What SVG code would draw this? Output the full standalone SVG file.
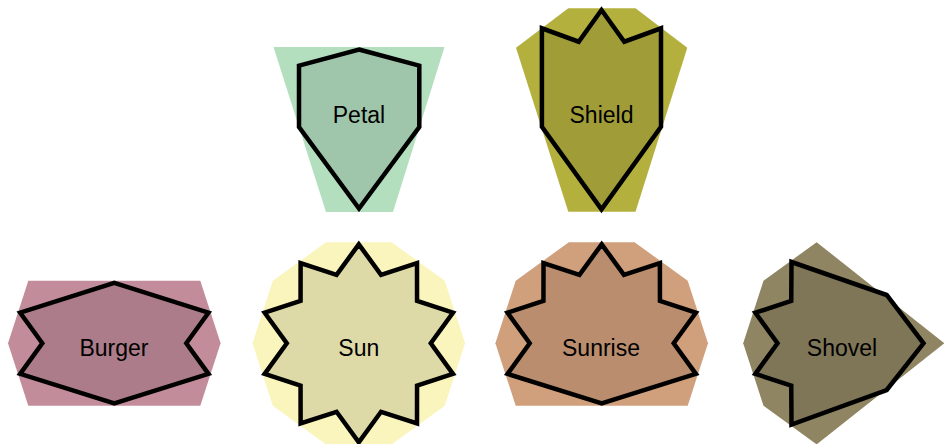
<svg xmlns="http://www.w3.org/2000/svg" width="944" height="444" viewBox="0 0 944 444">
<style>
.bg{stroke:none}
.ol{fill:#000;fill-opacity:0.11;stroke:#000;stroke-width:4.5;stroke-linejoin:miter}
.lb{font-family:"Liberation Sans",Arial,sans-serif;font-size:23px;fill:#000;text-anchor:middle}
</style>
<rect width="944" height="444" fill="#fff"/>
<g id="petal">
<polygon class="bg" fill="#b3dfbf" points="273.5,47 444.5,47 393,212 326,212"/>
<polygon class="ol" points="359,49.5 419.3,65.7 419.3,127 359,208.5 299,127 299,65.7"/>
<text class="lb" x="359" y="123">Petal</text>
</g>
<g id="shield">
<polygon class="bg" fill="#b4b03e" points="568.3,8.3 635.5,8.3 687.3,47.7 635.5,211.7 568.3,211.7 516,47.7"/>
<polygon class="ol" points="601.5,10 624.3,41.7 661,28.3 661,126.7 601.5,209.3 541.9,126.7 541.9,28.3 578.7,41.7"/>
<text class="lb" x="601.5" y="123">Shield</text>
</g>
<g id="burger">
<polygon class="bg" fill="#c38c9b" points="28.3,280.8 200.3,280.8 220.6,343.3 200.3,405.8 28.3,405.8 8,343.3"/>
<polygon class="ol" points="114.3,282.8 208.45,312.71 186.3,343.3 208.45,373.89 114.3,403.3 20.15,373.89 42.3,343.3 20.15,312.71"/>
<text class="lb" x="114" y="356">Burger</text>
</g>
<g id="sun">
<polygon class="bg" fill="#faf5bd" points="465.1,343.3 444.8,280.8 391.65,242.2 325.95,242.2 272.8,280.8 252.5,343.3 272.8,405.8 325.95,444.4 391.65,444.4 444.8,405.8"/>
<polygon class="ol" points="358.8,244.3 381.05,274.82 416.99,263.21 417.05,300.98 452.95,312.71 430.8,343.3 452.95,373.89 417.05,385.62 416.99,423.39 381.05,411.78 358.8,442.3 336.55,411.78 300.61,423.39 300.55,385.62 264.65,373.89 286.8,343.3 264.65,312.71 300.55,300.98 300.61,263.21 336.55,274.82"/>
<text class="lb" x="358.8" y="356">Sun</text>
</g>
<g id="sunrise">
<polygon class="bg" fill="#d09f7c" points="568.85,242.2 634.55,242.2 687.7,280.8 708,343.3 687.7,405.8 515.7,405.8 495.4,343.3 515.7,280.8"/>
<polygon class="ol" points="601.7,244.3 623.95,274.82 659.89,263.21 659.95,300.98 695.85,312.71 673.7,343.3 695.85,373.89 601.7,403.3 507.55,373.89 529.7,343.3 507.55,312.71 543.45,300.98 543.51,263.21 579.45,274.82"/>
<text class="lb" x="601" y="356">Sunrise</text>
</g>
<g id="shovel">
<polygon class="bg" fill="#8f8562" points="816.65,242.2 944.3,343.3 816.65,444.4 763.5,405.8 743.2,343.3 763.5,280.8"/>
<polygon class="ol" points="791.5,262 886.7,295 923.5,343.3 886.7,390 791.5,424.5 791.25,385.62 755.35,373.89 777.5,343.3 755.35,312.71 791.25,300.98"/>
<text class="lb" x="842" y="356">Shovel</text>
</g>
<g id="connectors"></g>
</svg>
